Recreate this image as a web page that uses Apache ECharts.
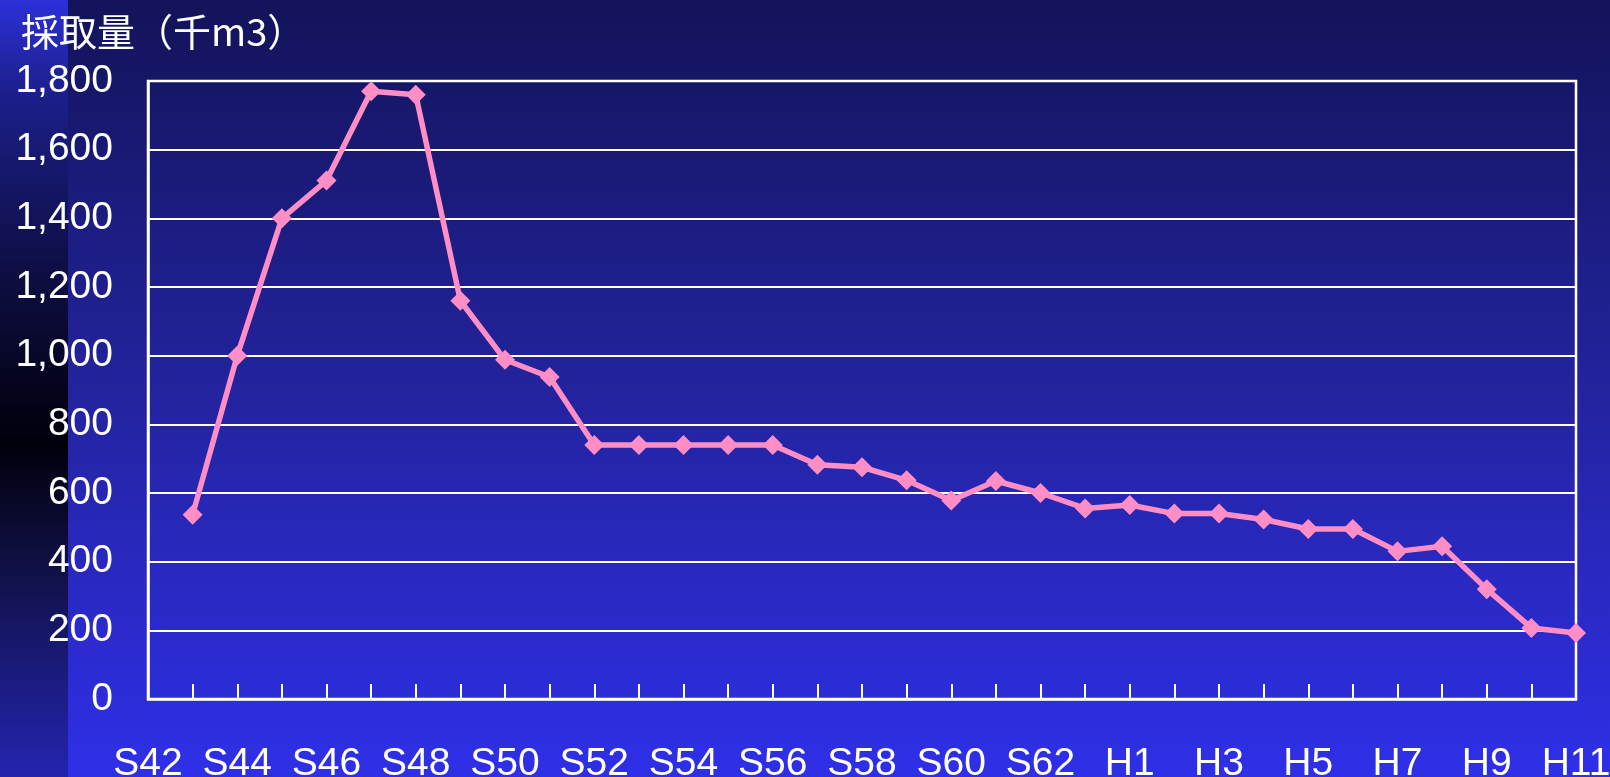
<!DOCTYPE html>
<html><head><meta charset="utf-8">
<script src="https://cdn.jsdelivr.net/npm/echarts@6/dist/echarts.min.js"></script>
<style>html,body{margin:0;padding:0;background:#14145a;}#c{width:1610px;height:777px;}</style>
</head><body><div id="c"></div>
<script>
const categories = ['S42','S43','S44','S45','S46','S47','S48','S49','S50','S51','S52','S53','S54','S55','S56','S57','S58','S59','S60','S61','S62','S63','H1','H2','H3','H4','H5','H6','H7','H8','H9','H10','H11'];
const volumes = [null,537,1000,1400,1510,1770,1760,1160,988,938,740,740,740,740,740,682,675,637,578,635,600,555,565,540,540,523,495,495,430,445,320,207,192];
const yTicks = {min:0, max:1800, interval:200};
const titleText = '採取量（千m3）';

const chart = echarts.init(document.getElementById('c'), null, {renderer:'canvas'});
chart.setOption({
  animation:false,
  backgroundColor:'transparent',
  graphic:[
    {type:'rect', z:-10, silent:true, shape:{x:0,y:0,width:1610,height:777},
     style:{fill:new echarts.graphic.LinearGradient(0,0,0,1,[
       {offset:0,color:'#13135a'},{offset:0.5,color:'#23239e'},{offset:1,color:'#2f2fe8'}])}},
    {type:'rect', z:-9, silent:true, shape:{x:0,y:0,width:68,height:777},
     style:{fill:new echarts.graphic.LinearGradient(0,0,0,1,[
       {offset:0,color:'#2c30d8'},{offset:0.12,color:'#1c1f8a'},{offset:0.35,color:'#0e0e44'},
       {offset:0.57,color:'#00000c'},{offset:0.75,color:'#12124e'},{offset:1,color:'#2424b0'}])}}
  ],
  title:{text:titleText, left:16, top:8,
    textStyle:{color:'#ffffff', fontSize:38, fontWeight:'normal', fontFamily:'Noto Sans CJK JP'}},
  grid:{left:148, right:34, top:81, bottom:78, outerBoundsMode:'none', containLabel:false,
    show:true, borderColor:'#ffffff', borderWidth:2.5, backgroundColor:'transparent'},
  xAxis:{type:'category', data:categories, boundaryGap:false,
    axisLine:{lineStyle:{color:'#ffffff', width:2.5}},
    axisTick:{inside:true, length:15, interval:0, lineStyle:{color:'#ffffff', width:2}},
    axisLabel:{interval:1, color:'#ffffff', fontSize:39, fontFamily:'Liberation Sans', margin:46, showMaxLabel:true},
    splitLine:{show:false}},
  yAxis:{type:'value', min:yTicks.min, max:yTicks.max, interval:yTicks.interval,
    axisLine:{show:true, lineStyle:{color:'#ffffff', width:2.5}},
    axisTick:{show:true, inside:true, length:14, lineStyle:{color:'#ffffff', width:2}},
    axisLabel:{color:'#ffffff', fontSize:39, fontFamily:'Liberation Sans', margin:35, padding:[6,0,0,0],
      formatter:v=>v.toLocaleString('en-US')},
    splitLine:{show:true, lineStyle:{color:'#ffffff', width:2}}},
  series:[{type:'line', data:volumes, connectNulls:false,
    symbol:'diamond', symbolSize:20, showAllSymbol:true,
    lineStyle:{color:'#ff8ec6', width:5.5},
    itemStyle:{color:'#ff8ec6'}}]
});
</script></body></html>
